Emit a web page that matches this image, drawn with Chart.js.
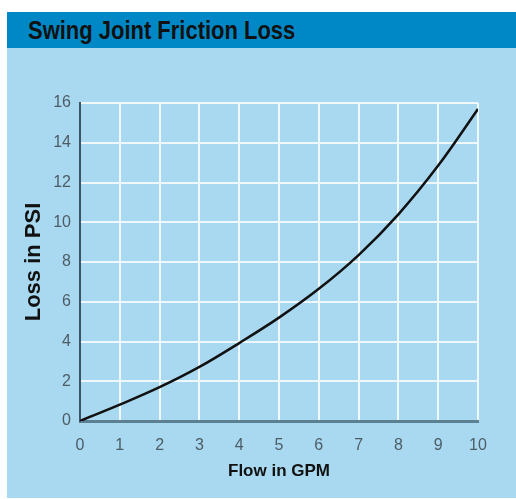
<!DOCTYPE html>
<html>
<head>
<meta charset="utf-8">
<script src="https://cdn.jsdelivr.net/npm/chart.js@4.4.1/dist/chart.umd.min.js"></script>
<style>
  html, body { margin: 0; padding: 0; background: #ffffff; width: 516px; height: 499px; overflow: hidden; }
  #panel { position: absolute; left: 7px; top: 12px; width: 509px; height: 486px; background: #a8d9f0; }
  #header { position: absolute; left: 0; top: 0; width: 509px; height: 36px; background: #0088c6; }
  #header span { position: absolute; left: 21px; top: 3px; font-family: "Liberation Sans", Arial, sans-serif; font-weight: bold; font-size: 26px; color: #111; line-height: 30px; transform: scaleX(0.845); transform-origin: 0 50%; white-space: nowrap; }
  #wrap { position: absolute; left: 0; top: 36px; width: 509px; height: 450px; }
</style>
</head>
<body>
<div id="panel">
  <div id="header"><span>Swing Joint Friction Loss</span></div>
  <div id="wrap"><canvas id="c" width="509" height="450"></canvas></div>
</div>
<script>
const flowGPM = [0, 1, 2, 3, 4, 5, 6, 7, 8, 9, 10];
const lossPSI = [0, 0.82, 1.7, 2.72, 3.92, 5.2, 6.65, 8.35, 10.4, 12.85, 15.7];
const xTitle = "Flow in GPM";
const yTitle = "Loss in PSI";

const points = flowGPM.map((x, i) => ({ x: x, y: lossPSI[i] }));
const fam = "'Liberation Sans', Arial, sans-serif";

new Chart(document.getElementById('c'), {
  type: 'line',
  data: {
    datasets: [{
      data: points,
      borderColor: '#111111',
      borderWidth: 2.5,
      pointRadius: 0,
      fill: false,
      tension: 0.35
    }]
  },
  options: {
    responsive: false,
    animation: false,
    devicePixelRatio: 1,
    layout: { padding: { top: 55, right: 38, left: 0, bottom: 0 } },
    plugins: { legend: { display: false }, tooltip: { enabled: false }, title: { display: false } },
    scales: {
      x: {
        type: 'linear', min: 0, max: 10,
        ticks: { stepSize: 1, color: '#4e5c66', font: { family: fam, size: 16 }, padding: 15 },
        grid: { color: '#eef8fd', lineWidth: 2, drawTicks: false },
        border: { display: true, color: '#5b8092', width: 3 },
        title: { display: true, text: xTitle, color: '#111', font: { family: fam, size: 17, weight: 'bold' }, padding: { top: 0, bottom: 16 } },
        afterFit: (s) => { s.height = 77; }
      },
      y: {
        min: 0, max: 16,
        ticks: { stepSize: 2, color: '#4e5c66', font: { family: fam, size: 16 }, padding: 9 },
        grid: { color: '#eef8fd', lineWidth: 2, drawTicks: false },
        border: { display: true, color: '#3c5566', width: 2 },
        title: { display: true, text: yTitle, color: '#111', font: { family: fam, size: 22, weight: 'bold' }, padding: { top: 14, bottom: 0 } },
        afterFit: (s) => { s.width = 73; }
      }
    }
  }
});
</script>
</body>
</html>
